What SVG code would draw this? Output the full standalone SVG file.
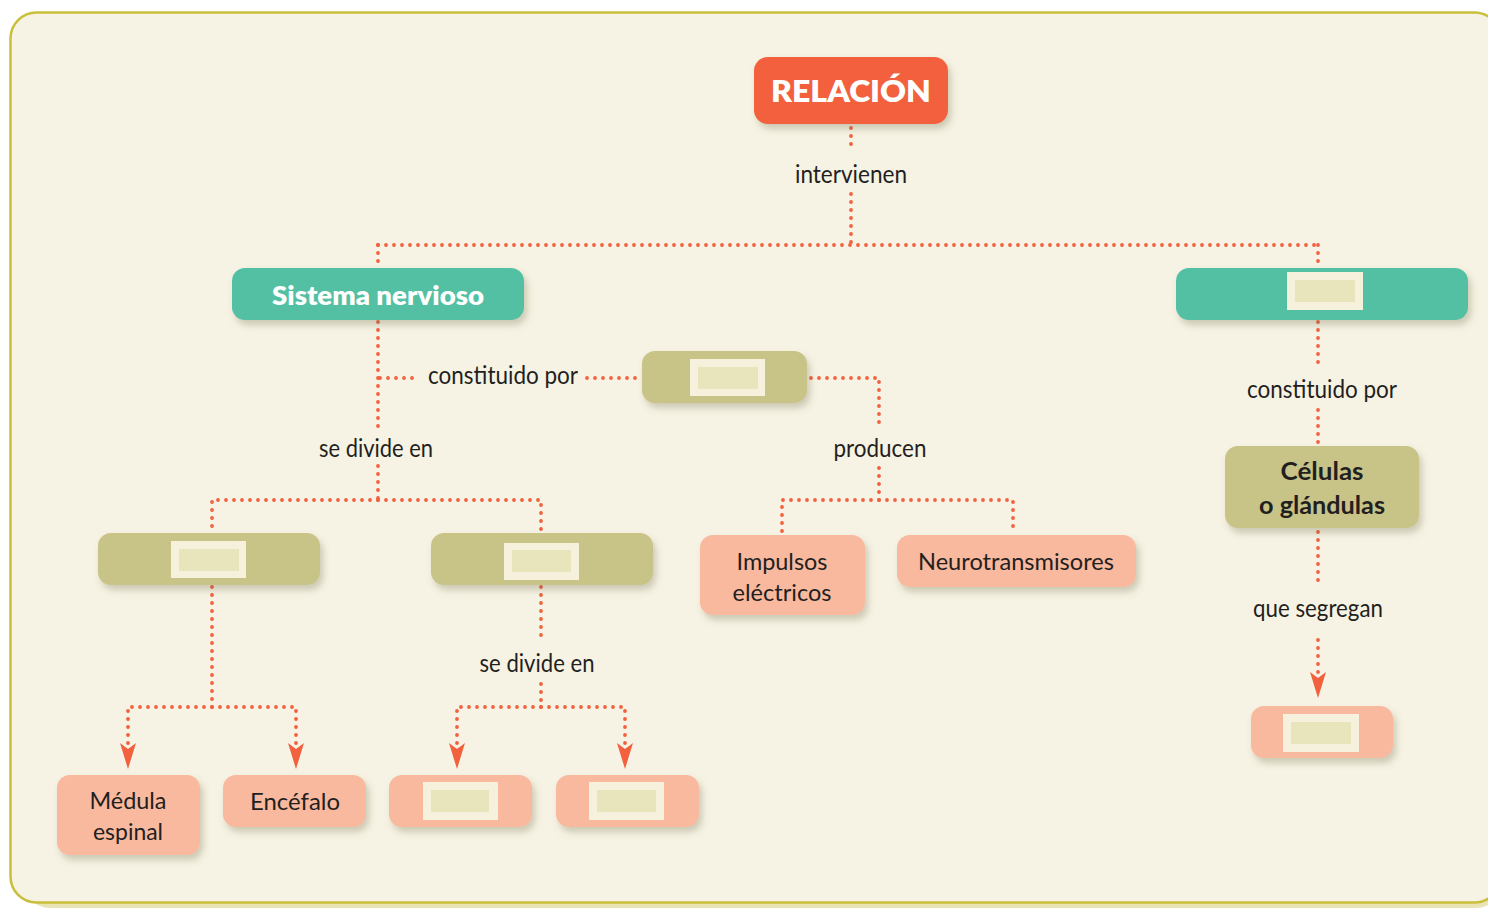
<svg xmlns="http://www.w3.org/2000/svg" width="1488" height="908" viewBox="0 0 1488 908">
<style>
.lbl{font-family:Lato,"Liberation Sans",sans-serif;font-size:25px;fill:#231f20;text-anchor:middle}
.hd{font-family:Lato,"Liberation Sans",sans-serif;font-weight:800;fill:#fff;text-anchor:middle}
.nt{font-family:Lato,"Liberation Sans",sans-serif;font-size:24px;fill:#231f20;text-anchor:middle}
.dot{fill:none;stroke:#f2603e;stroke-width:3.8;stroke-linecap:round;stroke-dasharray:0 8}
.red{fill:#f2603e}
.teal{fill:#53bfa3}
.olive{fill:#c8c387}
.pink{fill:#f9b99f}
.ph1{fill:#f5f1dc}
.ph2{fill:#e8e5bd}
</style>
<defs>
<filter id="sh" x="-20%" y="-30%" width="140%" height="170%">
<feDropShadow dx="3" dy="5" stdDeviation="3.5" flood-color="#6b6440" flood-opacity="0.3"/>
</filter>
<marker id="arr" viewBox="0 -10 28 20" refX="6" refY="0" markerWidth="28" markerHeight="20" markerUnits="userSpaceOnUse" orient="auto">
<path d="M0,-8 L6,0 L0,8 L26,0 Z" fill="#f2603e"/>
</marker>
</defs>
<rect x="24" y="20" width="1478" height="888" rx="26" fill="#e9e4b4"/>
<rect x="10.5" y="12.5" width="1490" height="890" rx="26" fill="#f6f3e4" stroke="#c9bf3a" stroke-width="2.5"/>

<g id="connectors">
<path class="dot" d="M851,128 V148"/>
<path class="dot" d="M851,194 V245"/>
<path class="dot" d="M378,245 H1318"/>
<path class="dot" d="M378,245 V266"/>
<path class="dot" d="M1318,245 V266"/>
<path class="dot" d="M378,322 V432"/>
<path class="dot" d="M378,466 V500"/>
<path class="dot" d="M380,378 H420"/>
<path class="dot" d="M587,378 H640"/>
<path class="dot" d="M811,378 H879 V426"/>
<path class="dot" d="M879,468 V500"/>
<path class="dot" d="M879,500 H1013 V533"/>
<path class="dot" d="M879,500 H782 V533"/>
<path class="dot" d="M378,500 H541 V531"/>
<path class="dot" d="M378,500 H212 V531"/>
<path class="dot" d="M212,587 V707"/>
<path class="dot" d="M212,707 H128 V749" marker-end="url(#arr)"/>
<path class="dot" d="M212,707 H296 V749" marker-end="url(#arr)"/>
<path class="dot" d="M541,587 V640"/>
<path class="dot" d="M541,684 V707"/>
<path class="dot" d="M541,707 H457 V749" marker-end="url(#arr)"/>
<path class="dot" d="M541,707 H625 V749" marker-end="url(#arr)"/>
<path class="dot" d="M1318,322 V368"/>
<path class="dot" d="M1318,410 V444"/>
<path class="dot" d="M1318,532 V582"/>
<path class="dot" d="M1318,640 V678" marker-end="url(#arr)"/>
<text class="lbl" x="851" y="183" textLength="112" lengthAdjust="spacingAndGlyphs">intervienen</text>
<text class="lbl" x="503" y="384" textLength="150" lengthAdjust="spacingAndGlyphs">constituido por</text>
<text class="lbl" x="376" y="457" textLength="114" lengthAdjust="spacingAndGlyphs">se divide en</text>
<text class="lbl" x="880" y="457" textLength="93" lengthAdjust="spacingAndGlyphs">producen</text>
<text class="lbl" x="537" y="672" textLength="115" lengthAdjust="spacingAndGlyphs">se divide en</text>
<text class="lbl" x="1322" y="398" textLength="150" lengthAdjust="spacingAndGlyphs">constituido por</text>
<text class="lbl" x="1318" y="617" textLength="130" lengthAdjust="spacingAndGlyphs">que segregan</text>
</g>

<g id="n-relacion">
<rect class="red" x="754" y="57" width="194" height="67" rx="14" filter="url(#sh)"/>
<text class="hd" x="851" y="102" font-size="30" textLength="160" lengthAdjust="spacingAndGlyphs">RELACIÓN</text>
</g>
<g id="n-sistema">
<rect class="teal" x="232" y="268" width="292" height="52" rx="13" filter="url(#sh)"/>
<text class="hd" x="378" y="305" font-size="27" textLength="212" lengthAdjust="spacingAndGlyphs">Sistema nervioso</text>
</g>
<g id="n-teal2">
<rect class="teal" x="1176" y="268" width="292" height="52" rx="13" filter="url(#sh)"/>
<rect class="ph1" x="1287" y="272" width="76" height="38"/>
<rect class="ph2" x="1295" y="280" width="60" height="22"/>
</g>
<g id="n-olive-mid">
<rect class="olive" x="642" y="351" width="165" height="52" rx="13" filter="url(#sh)"/>
<rect class="ph1" x="690" y="359" width="75" height="37"/>
<rect class="ph2" x="698" y="367" width="60" height="22"/>
</g>
<g id="n-olive-left">
<rect class="olive" x="98" y="533" width="222" height="52" rx="13" filter="url(#sh)"/>
<rect class="ph1" x="171" y="541" width="75" height="37"/>
<rect class="ph2" x="179" y="549" width="60" height="22"/>
</g>
<g id="n-olive-right">
<rect class="olive" x="431" y="533" width="222" height="52" rx="13" filter="url(#sh)"/>
<rect class="ph1" x="504" y="543" width="75" height="37"/>
<rect class="ph2" x="512" y="550" width="59" height="22"/>
</g>
<g id="n-impulsos">
<rect class="pink" x="700" y="535" width="165" height="80" rx="13" filter="url(#sh)"/>
<text class="nt" x="782" y="570" textLength="91" lengthAdjust="spacingAndGlyphs">Impulsos</text>
<text class="nt" x="782" y="601" textLength="99" lengthAdjust="spacingAndGlyphs">eléctricos</text>
</g>
<g id="n-neuro">
<rect class="pink" x="897" y="535" width="239" height="52" rx="13" filter="url(#sh)"/>
<text class="nt" x="1016" y="570" textLength="196" lengthAdjust="spacingAndGlyphs">Neurotransmisores</text>
</g>
<g id="n-celulas">
<rect class="olive" x="1225" y="446" width="194" height="82" rx="13" filter="url(#sh)"/>
<text class="nt" x="1322" y="480" font-weight="700" textLength="83" lengthAdjust="spacingAndGlyphs">Células</text>
<text class="nt" x="1322" y="514" font-weight="700" textLength="126" lengthAdjust="spacingAndGlyphs">o glándulas</text>
</g>
<g id="n-segregan">
<rect class="pink" x="1251" y="706" width="142" height="52" rx="13" filter="url(#sh)"/>
<rect class="ph1" x="1283" y="714" width="76" height="38"/>
<rect class="ph2" x="1291" y="722" width="60" height="22"/>
</g>
<g id="n-medula">
<rect class="pink" x="57" y="775" width="143" height="80" rx="13" filter="url(#sh)"/>
<text class="nt" x="128" y="809" textLength="77" lengthAdjust="spacingAndGlyphs">Médula</text>
<text class="nt" x="128" y="840" textLength="70" lengthAdjust="spacingAndGlyphs">espinal</text>
</g>
<g id="n-encefalo">
<rect class="pink" x="223" y="775" width="143" height="52" rx="13" filter="url(#sh)"/>
<text class="nt" x="295" y="810" textLength="90" lengthAdjust="spacingAndGlyphs">Encéfalo</text>
</g>
<g id="n-pink3">
<rect class="pink" x="389" y="775" width="143" height="52" rx="13" filter="url(#sh)"/>
<rect class="ph1" x="423" y="782" width="75" height="38"/>
<rect class="ph2" x="431" y="790" width="58" height="22"/>
</g>
<g id="n-pink4">
<rect class="pink" x="556" y="775" width="143" height="52" rx="13" filter="url(#sh)"/>
<rect class="ph1" x="589" y="782" width="75" height="38"/>
<rect class="ph2" x="597" y="790" width="59" height="22"/>
</g>
</svg>
